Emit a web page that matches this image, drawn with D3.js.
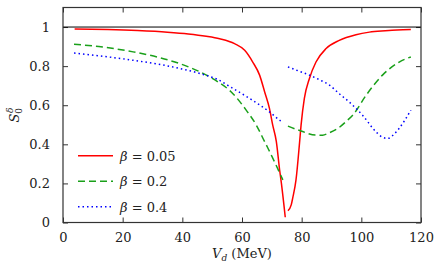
<!DOCTYPE html>
<html lang="en">
<head>
    <meta charset="UTF-8">
    <title>S0 delta vs Vd</title>
    <script src="https://d3js.org/d3.v7.min.js"></script>
    <style>
        body { margin: 0; background: #fff; }
        svg text { font-family: "DejaVu Serif", "Liberation Serif", serif !important; }
    </style>
</head>
<body>
    <svg width="436" height="266"></svg>

    <script>
        // Data: [V_d (MeV), S_0^delta]
        // each series has two branches (jump near V_d ~ 75 MeV)
        const red1 = [[3.9,0.99],[15,0.987],[25,0.982],[35,0.974],[42,0.965],[48,0.953],[52.5,0.94],
            [57.5,0.915],[60.9,0.881],[63.6,0.821],[65.9,0.754],[67.6,0.668],[69.2,0.584],[70.3,0.498],
            [71.5,0.415],[72.6,0.27],[73.2,0.201],[74.5,0.027]];
        const red2 = [[75.4,0.06],[76.5,0.09],[77,0.125],[78.1,0.218],[79.3,0.41],[79.8,0.498],
            [80.9,0.635],[82.6,0.737],[84.8,0.821],[88.2,0.89],[92.6,0.932],[98.2,0.961],
            [102.7,0.974],[108,0.981],[112,0.985],[116.6,0.987]];
        const green1 = [[3.7,0.912],[12,0.9],[23.5,0.873],[32,0.845],[39.1,0.813],[46,0.77],
            [51.9,0.72],[56.4,0.668],[61.4,0.575],[64.8,0.498],[67.6,0.413],[68.7,0.38],[73.7,0.218]];
        const green2 = [[75.4,0.493],[79.8,0.468],[84.8,0.447],[87,0.447],[89.3,0.459],[92,0.48],
            [95.4,0.524],[97.1,0.549],[101.6,0.651],[107.1,0.754],[112.7,0.821],[116.6,0.847]];
        const blue1 = [[3.7,0.867],[12,0.853],[23.5,0.83],[32,0.81],[39.1,0.788],[46,0.762],
            [51.9,0.731],[56.4,0.691],[62.5,0.635],[69.2,0.566],[72.6,0.524],[73.5,0.515]];
        const blue2 = [[75.4,0.796],[79,0.775],[82.6,0.754],[86,0.73],[89.3,0.703],[92.5,0.66],
            [95.9,0.617],[100.4,0.549],[104.9,0.464],[107,0.437],[108.8,0.43],[110.5,0.445],
            [112.7,0.482],[116.6,0.575]];

        const betas = ["0.05", "0.2", "0.4"];
        const xTicks = [0, 20, 40, 60, 80, 100, 120];
        const yTicks = [0, 0.2, 0.4, 0.6, 0.8, 1];

        const width = 436, height = 266;
        const margin = { top: 7.5, right: 15, bottom: 43.5, left: 63 };

        const svg = d3.select("svg");

        const x = d3.scaleLinear().domain([0, 120]).range([margin.left, width - margin.right]);
        const y = d3.scaleLinear().domain([0, 1.1]).range([height - margin.bottom, margin.top]);

        // axes, ticks pointing inward on all four sides
        const tickLen = 5;
        svg.append("g")
            .attr("transform", `translate(0,${y(0)})`)
            .call(d3.axisBottom(x).tickValues(xTicks).tickSizeInner(-tickLen).tickSizeOuter(0).tickPadding(10))
            .call(g => g.select(".domain").remove());
        svg.append("g")
            .attr("transform", `translate(0,${y(1.1)})`)
            .call(d3.axisTop(x).tickValues(xTicks).tickSizeInner(-tickLen).tickSizeOuter(0).tickFormat(""))
            .call(g => g.select(".domain").remove());
        svg.append("g")
            .attr("transform", `translate(${x(0)},0)`)
            .call(d3.axisLeft(y).tickValues(yTicks).tickSizeInner(-tickLen).tickSizeOuter(0).tickPadding(13)
                .tickFormat(d => d === 0 || d === 1 ? d : d3.format(".1f")(d)))
            .call(g => g.select(".domain").remove());
        svg.append("g")
            .attr("transform", `translate(${x(120)},0)`)
            .call(d3.axisRight(y).tickValues(yTicks).tickSizeInner(-tickLen).tickSizeOuter(0).tickFormat(""))
            .call(g => g.select(".domain").remove());

        svg.selectAll(".tick text").attr("font-size", 13).attr("fill", "#222");
        svg.selectAll(".tick line").attr("stroke", "#333");

        // reference line at 1
        svg.append("line")
            .attr("x1", x(0)).attr("x2", x(120))
            .attr("y1", y(1)).attr("y2", y(1))
            .attr("stroke", "#000").attr("stroke-width", 1);

        const line = d3.line()
            .x(d => x(d[0]))
            .y(d => y(d[1]))
            .curve(d3.curveMonotoneX);

        const styles = [
            { color: "#ff0000", dash: null, data: [red1, red2] },
            { color: "#1aa01a", dash: "7,4", data: [green1, green2] },
            { color: "#0000ff", dash: "1.5,3", data: [blue1, blue2] }
        ];

        styles.forEach(s => {
            s.data.forEach(branch => {
                svg.append("path")
                    .datum(branch)
                    .attr("fill", "none")
                    .attr("stroke", s.color)
                    .attr("stroke-width", 1.5)
                    .attr("stroke-dasharray", s.dash)
                    .attr("d", line);
            });
        });

        // frame
        svg.append("rect")
            .attr("x", x(0)).attr("y", y(1.1))
            .attr("width", x(120) - x(0)).attr("height", y(0) - y(1.1))
            .attr("fill", "none").attr("stroke", "#333").attr("stroke-width", 1.2);

        // legend
        const legend = svg.append("g");
        styles.forEach((s, i) => {
            const ly = 155.7 + i * 25.5;
            legend.append("line")
                .attr("x1", 78).attr("x2", 113)
                .attr("y1", ly).attr("y2", ly)
                .attr("stroke", s.color).attr("stroke-width", 1.5)
                .attr("stroke-dasharray", s.dash);
            const t = legend.append("text")
                .attr("x", 120).attr("y", ly + 5)
                .attr("font-size", 13).attr("fill", "#222");
            t.append("tspan").attr("font-style", "italic").text("β");
            t.append("tspan").text(" = " + betas[i]);
        });

        // axis labels
        const xl = svg.append("text")
            .attr("x", (x(0) + x(120)) / 2).attr("y", 258)
            .attr("text-anchor", "middle").attr("font-size", 13).attr("fill", "#222");
        xl.append("tspan").attr("font-style", "italic").text("V");
        xl.append("tspan").attr("font-style", "italic").attr("font-size", 9).attr("dy", 3).text("d");
        xl.append("tspan").attr("dy", -3).text(" (MeV)");

        const yl = svg.append("text")
            .attr("transform", `translate(19,${(y(0) + y(1.1)) / 2}) rotate(-90)`)
            .attr("text-anchor", "middle").attr("font-size", 13).attr("fill", "#222");
        yl.append("tspan").attr("font-style", "italic").text("S");
        yl.append("tspan").attr("font-size", 9).attr("dy", 3).text("0");
        yl.append("tspan").attr("font-size", 9).attr("font-style", "italic").attr("dx", -5).attr("dy", -9).text("δ");
    </script>
</body>
</html>
